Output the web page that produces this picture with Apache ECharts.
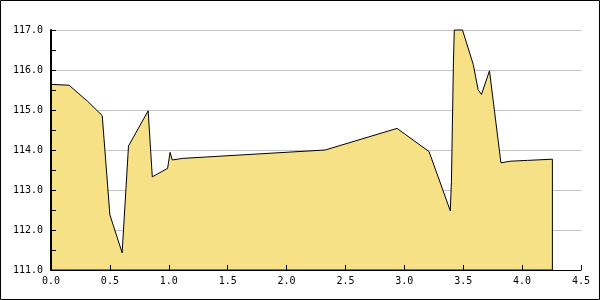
<!DOCTYPE html>
<html>
<head>
<meta charset="utf-8">
<script src="https://cdn.jsdelivr.net/npm/echarts@6/dist/echarts.min.js"></script>
<style>html,body{margin:0;padding:0;background:#fff}#c{width:600px;height:300px}</style>
</head>
<body>
<div id="c"></div>
<script>
const xValues = [0, 0.153, 0.31, 0.435, 0.5, 0.604, 0.658, 0.825, 0.86, 0.99, 1.011, 1.03, 1.116, 2.328, 2.938, 3.21, 3.39, 3.40, 3.417, 3.424, 3.494, 3.585, 3.627, 3.655, 3.723, 3.82, 3.9, 4.045, 4.257];
const yValues = [115.64, 115.62, 115.22, 114.86, 112.38, 111.43, 114.10, 114.98, 113.33, 113.54, 113.94, 113.75, 113.79, 114.00, 114.54, 113.96, 112.48, 113.22, 116.22, 117.00, 117.00, 116.14, 115.50, 115.39, 115.98, 113.68, 113.72, 113.74, 113.77];
const yMin = 111, yMax = 117, yStep = 1;
const xMin = 0, xMax = 4.5, xStep = 0.5;

const points = xValues.map((x, i) => [x, yValues[i]]);
const font = { fontFamily: 'DejaVu Sans Mono', fontSize: 10, color: '#000' };

const chart = echarts.init(document.getElementById('c'), null, { renderer: 'canvas' });
chart.setOption({
  animation: false,
  backgroundColor: '#fff',
  grid: { left: 51, right: 19, top: 30, bottom: 30 },
  xAxis: {
    type: 'value', min: xMin, max: xMax, interval: xStep, z: 5,
    axisLine: { show: true, onZero: false, lineStyle: { color: '#000', width: 1 } },
    axisTick: { show: true, inside: true, length: 5, lineStyle: { color: '#000' } },
    splitLine: { show: false },
    axisLabel: Object.assign({ margin: 6, formatter: v => v.toFixed(1) }, font)
  },
  yAxis: [{
    type: 'value', min: yMin, max: yMax, interval: yStep, z: 5,
    axisLine: { show: true, lineStyle: { color: '#000', width: 2 } },
    axisTick: { show: true, inside: true, length: 5, lineStyle: { color: '#000' } },
    minorTick: { show: true, splitNumber: 2, length: 5, lineStyle: { color: '#000' } },
    splitLine: { show: false },
    axisLabel: Object.assign({ margin: 8, formatter: v => v.toFixed(1) }, font)
  }, {
    type: 'value', min: yMin, max: yMax, interval: yStep, z: 0, position: 'left',
    axisLine: { show: false }, axisTick: { show: false }, axisLabel: { show: false },
    splitLine: { show: true, lineStyle: { color: '#c4c4c4', width: 1 } }
  }],
  series: [{
    type: 'custom',
    z: 2,
    data: points,
    encode: { x: 0, y: 1 },
    renderItem: function (params, api) {
      if (params.dataIndex !== 0) return null;
      const pts = points.map(p => api.coord(p));
      pts.push(api.coord([xValues[xValues.length - 1], yMin]));
      pts.push(api.coord([xValues[0], yMin]));
      return {
        type: 'polygon',
        shape: { points: pts },
        style: { fill: '#f6e186', stroke: '#000', lineWidth: 1 }
      };
    }
  }],
  graphic: [{
    type: 'rect', z: 100,
    shape: { x: 0.5, y: 0.5, width: 599, height: 299 },
    style: { fill: 'none', stroke: '#000', lineWidth: 1 }
  }]
});
</script>
</body>
</html>
